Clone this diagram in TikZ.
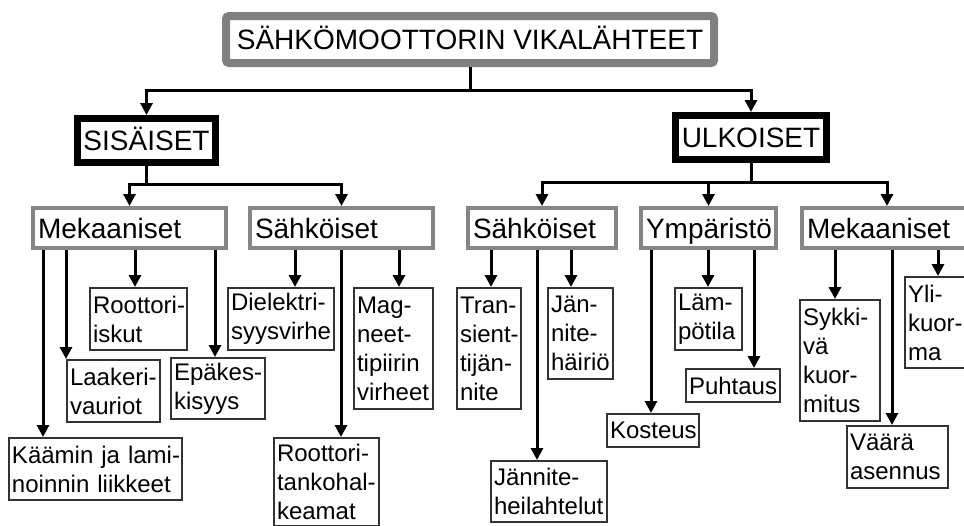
\documentclass[tikz,border=0pt]{standalone}
\usepackage{fontspec}
\setmainfont{Liberation Sans}
\usetikzlibrary{arrows.meta}
\hyphenpenalty=10000
\exhyphenpenalty=10000

\begin{document}
\begin{tikzpicture}[x=1pt, y=-1pt]
    \tikzstyle{every node} = [inner ysep=0pt]
    \tikzstyle{mainbox} = [draw=black, line width=7pt, minimum height=44pt, text height=20pt, text depth=0pt, font=\fontsize{28}{34}\selectfont]
    \tikzstyle{titlebox} = [mainbox, draw=black!50, line width=8pt, rounded corners=3pt, minimum height=47pt, minimum width=488pt]
    \tikzstyle{catbox} = [draw=black!48, line width=4pt, minimum height=40pt, inner xsep=5pt, text height=20pt, text depth=0pt, align=left, font=\fontsize{28}{34}\selectfont]
    \tikzstyle{leafbox} = [draw=black!80, line width=2pt, inner xsep=3pt, align=left, font=\fontsize{24}{29}\selectfont]
    \tikzstyle{conn} = [line width=3pt, -{Triangle[length=12pt, width=12pt]}]

    \useasboundingbox (0,0) rectangle (964,525);
    \clip (0,0) rectangle (964,525);

    % top
    \node [titlebox] (title) at (470,39.5) {SÄHKÖMOOTTORIN VIKALÄHTEET};
    \node [mainbox, minimum width=138pt] (sis) at (146.5,140.5) {SISÄISET};
    \node [mainbox, minimum width=151pt] (ulk) at (751,137.5) {ULKOISET};

    \draw [conn] (title.south) -- ++(0,23) -| (sis.north);
    \draw [conn] (title.south) -- ++(0,23) -| (ulk.north);

    % second level
    \node [catbox, text width=183pt] (mekS) at (129.5,228) {Mekaaniset};
    \node [catbox, text width=173pt] (sahS) at (341.5,228) {Sähköiset};
    \node [catbox, text width=138pt] (sahU) at (542,228) {Sähköiset};
    \node [catbox, text width=125pt] (ymp) at (708.5,228) {Ympäristö};
    \node [catbox, text width=160pt] (mekU) at (887,228) {Mekaaniset};

    \foreach \n in {mekS, sahS}
      \draw [conn] (sis.south) -- ++(0,18) -| (\n.north);
    \foreach \n in {sahU, ymp, mekU}
      \draw [conn] (ulk.south) -- ++(0,19) -| (\n.north);

    % leaves, sisaiset
    \node [leafbox, text width=91pt, minimum height=62pt] (rotisk) at (138.5,319) {Roottori-\\iskut};
    \node [leafbox, text width=87pt, minimum height=62pt] (laak) at (113.5,391) {Laakeri-\\vauriot};
    \node [leafbox, text width=88pt, minimum height=61pt] (epak) at (218,388.5) {Epäkes-\\kisyys};
    \node [leafbox, text width=167pt, minimum height=62pt] (kaam) at (95.5,469) {Käämin~ja~lami-\\noinnin~liikkeet};
    \node [leafbox, text width=100pt, minimum height=62pt] (diel) at (281,319) {Dielektri-\\syysvirhe};
    \node [leafbox, text width=73pt, minimum height=121pt] (magn) at (393.5,348.5) {Mag-\\neet-\\tipiirin\\virheet};
    \node [leafbox, text width=99pt, minimum height=88pt] (tanko) at (326.5,482) {Roottori-\\tankohal-\\keamat};

    % leaves, ulkoiset
    \node [leafbox, text width=58pt, minimum height=121pt] (trans) at (489,348.5) {Tran-\\sient-\\tijän-\\nite};
    \node [leafbox, text width=59pt, minimum height=91pt] (jhair) at (580.5,333.5) {Jän-\\nite-\\häiriö};
    \node [leafbox, text width=110pt, minimum height=61pt] (jheil) at (549,491.5) {Jännite-\\heilahtelut};
    \node [leafbox, text width=86pt, minimum height=33pt] (kost) at (653,430.5) {Kosteus};
    \node [leafbox, text width=61pt, minimum height=62pt] (lamp) at (708.5,319) {Läm-\\pötila};
    \node [leafbox, text width=88pt, minimum height=33pt] (puht) at (733,385.5) {Puhtaus};
    \node [leafbox, text width=74pt, minimum height=121pt] (sykk) at (840,360.5) {Sykki-\\vä\\kuor-\\mitus};
    \node [leafbox, text width=95pt, minimum height=62pt] (vaara) at (897.5,457) {Väärä\\asennus};
    \node [leafbox, text width=62pt, minimum height=91pt] (yli) at (939,322.5) {Yli-\\kuor-\\ma};

    \foreach \n/\dx in {kaam/35, laak/0, rotisk/46, epak/45}
      \draw [conn] ([xshift=\dx pt]\n.north west |- mekS.south) -- ([xshift=\dx pt]\n.north west);
    \foreach \n/\dx in {diel/68, magn/46, tanko/68}
      \draw [conn] ([xshift=\dx pt]\n.north west |- sahS.south) -- ([xshift=\dx pt]\n.north west);
    \foreach \n/\dx in {trans/35, jheil/47, jhair/24}
      \draw [conn] ([xshift=\dx pt]\n.north west |- sahU.south) -- ([xshift=\dx pt]\n.north west);
    \foreach \n/\dx in {kost/45, lamp/34, puht/69}
      \draw [conn] ([xshift=\dx pt]\n.north west |- ymp.south) -- ([xshift=\dx pt]\n.north west);
    \foreach \n/\dx in {sykk/36, vaara/46, yli/34}
      \draw [conn] ([xshift=\dx pt]\n.north west |- mekU.south) -- ([xshift=\dx pt]\n.north west);
\end{tikzpicture}
\end{document}
